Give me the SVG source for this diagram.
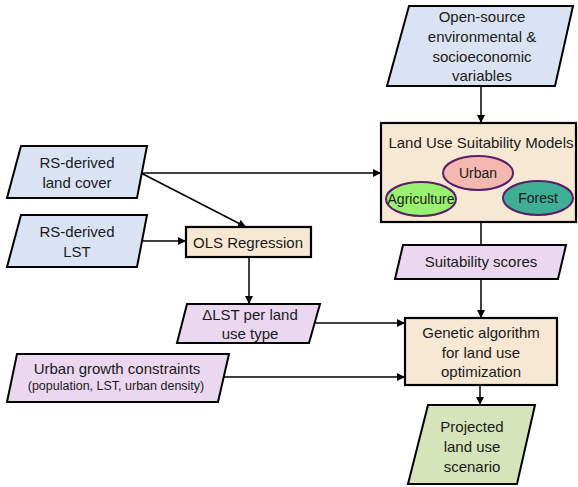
<svg xmlns="http://www.w3.org/2000/svg" width="578" height="487" viewBox="0 0 578 487">
<defs>
<marker id="ah" viewBox="0 0 10 10" refX="10" refY="5" markerWidth="8" markerHeight="8" markerUnits="userSpaceOnUse" orient="auto">
<path d="M0,0 L10,5 L0,10 z" fill="#000"/>
</marker>
<style>
.blue{fill:#dae3f3;stroke:#000;stroke-width:2}
.cream{fill:#f7e8d3;stroke:#000;stroke-width:2.2}
.purple{fill:#ecd7f1;stroke:#000;stroke-width:2}
.green{fill:#d6e4b9;stroke:#000;stroke-width:2}
.ell{stroke:#5a1e6a;stroke-width:2}
text{font-family:"Liberation Sans",Arial,sans-serif;font-size:15px;fill:#1a1a1a;text-anchor:middle}
.sm{font-size:12.5px}
.el{font-size:14px}
.c{stroke:#000;stroke-width:1.5;fill:none}
</style>
</defs>
<rect width="578" height="487" fill="#fff"/>
<g id="connectors">
<line class="c" x1="481" y1="86" x2="481" y2="123" marker-end="url(#ah)"/>
<line class="c" x1="141" y1="173" x2="381" y2="173" marker-end="url(#ah)"/>
<line class="c" x1="141" y1="173" x2="246" y2="227" marker-end="url(#ah)"/>
<line class="c" x1="142" y1="241" x2="186" y2="241" marker-end="url(#ah)"/>
<line class="c" x1="249" y1="257" x2="249" y2="304" marker-end="url(#ah)"/>
<line class="c" x1="481" y1="222" x2="481" y2="245"/>
<line class="c" x1="481" y1="279" x2="481" y2="318" marker-end="url(#ah)"/>
<line class="c" x1="314" y1="323" x2="405" y2="323" marker-end="url(#ah)"/>
<line class="c" x1="223" y1="377" x2="405" y2="377" marker-end="url(#ah)"/>
<line class="c" x1="480" y1="385" x2="480" y2="405" marker-end="url(#ah)"/>
</g>
<g id="open-source">
<polygon class="blue" points="409,6 573,6 555,86 387,86"/>
<text x="482" y="22">Open-source</text>
<text x="482" y="42">environmental &amp;</text>
<text x="482" y="62">socioeconomic</text>
<text x="482" y="81">variables</text>
</g>
<g id="rs-landcover">
<polygon class="blue" points="21,146 147,146 137,198 7,198"/>
<text x="77" y="168">RS-derived</text>
<text x="77" y="188">land cover</text>
</g>
<g id="rs-lst">
<polygon class="blue" points="21,215 147,215 137,267 7,267"/>
<text x="77" y="237">RS-derived</text>
<text x="77" y="257">LST</text>
</g>
<g id="ols">
<rect class="cream" x="186" y="227" width="125" height="30"/>
<text x="248" y="248">OLS Regression</text>
</g>
<g id="suitability-models">
<rect class="cream" x="381" y="123" width="195" height="99"/>
<text x="481" y="148">Land Use Suitability Models</text>
<ellipse class="ell" cx="478" cy="173" rx="35" ry="17" fill="#f4b8b0"/>
<text class="el" x="478" y="178">Urban</text>
<ellipse class="ell" cx="421" cy="199" rx="35" ry="17" fill="#9af170"/>
<text class="el" x="421" y="204">Agriculture</text>
<ellipse class="ell" cx="538" cy="198" rx="35" ry="17" fill="#3eae94"/>
<text class="el" x="538" y="203">Forest</text>
</g>
<g id="suitability-scores">
<polygon class="purple" points="403,245 566,245 558,279 395,279"/>
<text x="481" y="267">Suitability scores</text>
</g>
<g id="delta-lst">
<polygon class="purple" points="187,304 320,304 309,343 177,343"/>
<text x="250" y="320">ΔLST per land</text>
<text x="250" y="339">use type</text>
</g>
<g id="constraints">
<polygon class="purple" points="17,354 229,354 218,402 7,402"/>
<text x="117" y="374">Urban growth constraints</text>
<text class="sm" x="116" y="390">(population, LST, urban density)</text>
</g>
<g id="genetic">
<rect class="cream" x="405" y="318" width="152" height="67"/>
<text x="481" y="338">Genetic algorithm</text>
<text x="481" y="358">for land use</text>
<text x="481" y="377">optimization</text>
</g>
<g id="projected">
<polygon class="green" points="428,405 535,405 517,484 408,484"/>
<text x="472" y="432">Projected</text>
<text x="472" y="452">land use</text>
<text x="472" y="472">scenario</text>
</g>
</svg>
